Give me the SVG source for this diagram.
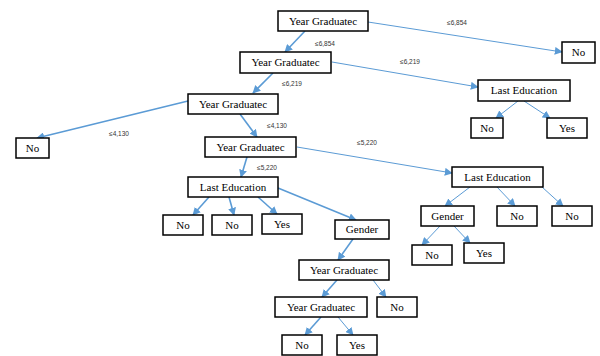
<svg xmlns="http://www.w3.org/2000/svg" width="600" height="356" viewBox="0 0 600 356">
<style>
.n rect{fill:#fff;stroke:#000;stroke-width:1.5}
.n text{font-family:"Liberation Serif",serif;font-size:11px;text-anchor:middle;fill:#000}
.e{stroke:#5B9BD5;fill:none;marker-end:url(#ah)}
.t{stroke-width:1.6}
.s{stroke-width:1}
.l{font-family:"Liberation Sans",sans-serif;font-size:6.5px;fill:#333;text-anchor:middle}
</style>
<defs>
<marker id="ah" viewBox="0 0 10 10" refX="9" refY="5" markerUnits="userSpaceOnUse" markerWidth="8" markerHeight="8" orient="auto">
<path d="M0,0 L10,5 L0,10 z" fill="#5B9BD5"/>
</marker>
</defs>
<rect width="600" height="356" fill="#fff"/>
<g id="connectors">
<line class="e s" x1="368" y1="22" x2="562" y2="52"/>
<line class="e t" x1="305" y1="31" x2="285" y2="52"/>
<line class="e s" x1="332" y1="62" x2="478" y2="87"/>
<line class="e t" x1="273" y1="73" x2="253" y2="93"/>
<line class="e s" x1="518" y1="101" x2="496" y2="118"/>
<line class="e s" x1="524" y1="101" x2="550" y2="118"/>
<line class="e t" x1="188" y1="101" x2="37" y2="138"/>
<line class="e t" x1="240" y1="114" x2="257" y2="137"/>
<line class="e s" x1="297" y1="147" x2="452" y2="173"/>
<line class="e t" x1="247" y1="157" x2="241" y2="177"/>
<line class="e t" x1="209" y1="197" x2="193" y2="215"/>
<line class="e t" x1="229" y1="197" x2="234" y2="215"/>
<line class="e t" x1="258" y1="197" x2="277" y2="214"/>
<line class="e t" x1="278" y1="188" x2="356" y2="220"/>
<line class="e s" x1="470" y1="187" x2="445" y2="206"/>
<line class="e s" x1="497" y1="187" x2="515" y2="206"/>
<line class="e s" x1="542" y1="187" x2="563" y2="206"/>
<line class="e s" x1="440" y1="226" x2="422" y2="245"/>
<line class="e s" x1="454" y1="226" x2="470" y2="243"/>
<line class="e t" x1="353" y1="239" x2="338" y2="260"/>
<line class="e t" x1="337" y1="280" x2="322" y2="297"/>
<line class="e s" x1="373" y1="280" x2="386" y2="297"/>
<line class="e t" x1="321" y1="317" x2="305" y2="335"/>
<line class="e s" x1="338" y1="317" x2="353" y2="335"/>
<text class="l" x="457" y="25">≤6,854</text>
<text class="l" x="325" y="46">≤6,854</text>
<text class="l" x="410" y="64">≤6,219</text>
<text class="l" x="292" y="86">≤6,219</text>
<text class="l" x="119" y="136">≤4,130</text>
<text class="l" x="277" y="128">≤4,130</text>
<text class="l" x="267" y="170">≤5,220</text>
<text class="l" x="367" y="145">≤5,220</text>
</g>
<g id="n1" class="n"><rect x="278" y="11" width="90" height="20"/><text x="323" y="25">Year Graduatec</text></g>
<g id="n2" class="n"><rect x="562" y="42" width="33" height="21"/><text x="578.5" y="56">No</text></g>
<g id="n3" class="n"><rect x="240" y="52" width="91" height="21"/><text x="285.5" y="66">Year Graduatec</text></g>
<g id="n4" class="n"><rect x="478" y="80" width="92" height="21"/><text x="524" y="94">Last Education</text></g>
<g id="n5" class="n"><rect x="471" y="118" width="32" height="20"/><text x="487" y="132">No</text></g>
<g id="n6" class="n"><rect x="547" y="118" width="40" height="20"/><text x="567" y="132">Yes</text></g>
<g id="n7" class="n"><rect x="188" y="94" width="90" height="20"/><text x="233" y="108">Year Graduatec</text></g>
<g id="n8" class="n"><rect x="16" y="138" width="33" height="20"/><text x="32.5" y="152">No</text></g>
<g id="n9" class="n"><rect x="205" y="137" width="91" height="20"/><text x="250.5" y="151">Year Graduatec</text></g>
<g id="n10" class="n"><rect x="188" y="177" width="90" height="20"/><text x="233" y="191">Last Education</text></g>
<g id="n11" class="n"><rect x="163" y="215" width="40" height="20"/><text x="183" y="229">No</text></g>
<g id="n12" class="n"><rect x="212" y="215" width="40" height="20"/><text x="232" y="229">No</text></g>
<g id="n13" class="n"><rect x="262" y="214" width="40" height="20"/><text x="282" y="228">Yes</text></g>
<g id="n14" class="n"><rect x="335" y="220" width="54" height="19"/><text x="362" y="233">Gender</text></g>
<g id="n15" class="n"><rect x="452" y="167" width="91" height="20"/><text x="497.5" y="181">Last Education</text></g>
<g id="n16" class="n"><rect x="421" y="206" width="53" height="20"/><text x="447.5" y="220">Gender</text></g>
<g id="n17" class="n"><rect x="497" y="206" width="40" height="20"/><text x="517" y="220">No</text></g>
<g id="n18" class="n"><rect x="552" y="206" width="40" height="20"/><text x="572" y="220">No</text></g>
<g id="n19" class="n"><rect x="412" y="245" width="40" height="20"/><text x="432" y="259">No</text></g>
<g id="n20" class="n"><rect x="464" y="243" width="40" height="20"/><text x="484" y="257">Yes</text></g>
<g id="n21" class="n"><rect x="299" y="260" width="90" height="20"/><text x="344" y="274">Year Graduatec</text></g>
<g id="n22" class="n"><rect x="377" y="297" width="40" height="20"/><text x="397" y="311">No</text></g>
<g id="n23" class="n"><rect x="275" y="297" width="92" height="20"/><text x="321" y="311">Year Graduatec</text></g>
<g id="n24" class="n"><rect x="282" y="335" width="40" height="20"/><text x="302" y="349">No</text></g>
<g id="n25" class="n"><rect x="337" y="335" width="40" height="20"/><text x="357" y="349">Yes</text></g>
</svg>
